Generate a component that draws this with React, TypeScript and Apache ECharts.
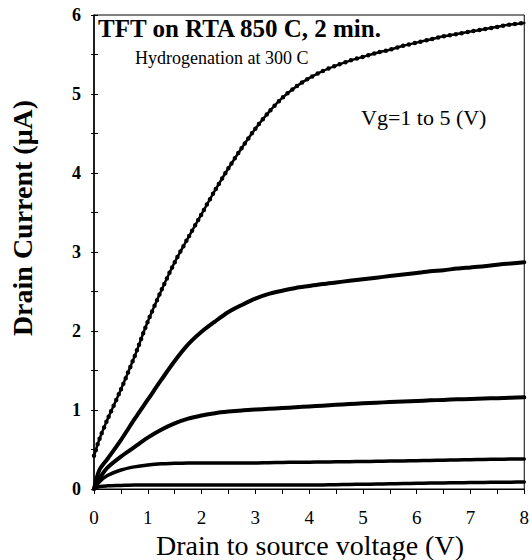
import React, { useEffect, useRef } from "react";
import * as echarts from "echarts";

// Drain-source voltage (V) sample points
const vdsValues = [
  0, 0.1, 0.25, 0.5, 0.75, 1, 1.25, 1.5, 1.75, 2, 2.25, 2.5, 2.75, 3, 3.25, 3.5, 3.75, 4,
  4.25, 4.5, 4.75, 5, 5.25, 5.5, 5.75, 6, 6.25, 6.5, 6.75, 7, 7.25, 7.5, 7.75, 8,
];

// Drain current (uA) for each gate voltage
const idVg5 = [
  0.42, 0.63, 0.88, 1.26, 1.67, 2.12, 2.51, 2.87, 3.18, 3.48, 3.78, 4.06, 4.32, 4.56, 4.77, 4.95, 5.09, 5.2,
  5.29, 5.36, 5.42, 5.47, 5.52, 5.56, 5.61, 5.65, 5.69, 5.73, 5.76, 5.79, 5.82, 5.85, 5.88, 5.9,
];
const idVg4 = [
  0, 0.24, 0.38, 0.62, 0.88, 1.13, 1.38, 1.62, 1.83, 1.99, 2.12, 2.24, 2.33, 2.41, 2.47, 2.51, 2.545, 2.57,
  2.595, 2.615, 2.635, 2.655, 2.675, 2.695, 2.715, 2.735, 2.755, 2.77, 2.79, 2.805, 2.82, 2.84, 2.855, 2.87,
];
const idVg3 = [
  0, 0.13, 0.27, 0.41, 0.53, 0.65, 0.75, 0.83, 0.89, 0.93, 0.96, 0.98, 0.995, 1.005, 1.015, 1.025, 1.035, 1.045,
  1.055, 1.065, 1.075, 1.085, 1.093, 1.1, 1.108, 1.115, 1.122, 1.128, 1.135, 1.14, 1.145, 1.15, 1.155, 1.16,
];
const idVg2 = [
  0, 0.09, 0.17, 0.24, 0.28, 0.305, 0.32, 0.325, 0.33, 0.33, 0.33, 0.33, 0.33, 0.33, 0.333, 0.336, 0.338, 0.34,
  0.342, 0.344, 0.346, 0.348, 0.35, 0.353, 0.356, 0.359, 0.362, 0.365, 0.368, 0.371, 0.374, 0.377, 0.379, 0.38,
];
const idVg1 = [
  0, 0.03, 0.04, 0.045, 0.05, 0.05, 0.05, 0.05, 0.05, 0.05, 0.05, 0.05, 0.05, 0.05, 0.05, 0.05, 0.05, 0.05,
  0.052, 0.055, 0.058, 0.06, 0.063, 0.066, 0.069, 0.072, 0.075, 0.077, 0.079, 0.081, 0.083, 0.085, 0.087, 0.09,
];

const titleText = "TFT on RTA 850 C, 2 min.";
const subtitleText = "Hydrogenation at 300 C";
const annotationText = "Vg=1 to 5 (V)";
const xAxisName = "Drain to source voltage (V)";
const yAxisName = "Drain Current (\u03bcA)";

const FONT = "Liberation Serif";

const pairs = (ys: number[]) => vdsValues.map((v, i) => [v, ys[i]]);

export default function App() {
  const ref = useRef<HTMLDivElement>(null);

  useEffect(() => {
    if (!ref.current) return;
    const chart = echarts.init(ref.current, null, { renderer: "svg" });

    const solid = (name: string, ys: number[], width: number) => ({
      name,
      type: "line",
      data: pairs(ys),
      smooth: 0.3,
      showSymbol: false,
      symbol: "none",
      lineStyle: { color: "#000", width, cap: "round", join: "round" },
      z: 3,
    });

    const txt = (
      text: string,
      x: number,
      y: number,
      size: number,
      weight: string,
      align: string,
      rotation = 0
    ) => ({
      type: "text",
      x,
      y,
      rotation,
      style: {
        text,
        fontFamily: FONT,
        fontSize: size,
        fontWeight: weight,
        fill: "#000",
        align,
        verticalAlign: "middle",
      },
    });

    chart.setOption({
      animation: false,
      backgroundColor: "#fff",
      grid: {
        left: 94,
        right: 3,
        top: 15,
        bottom: 71,
        show: true,
        borderColor: "#000",
        borderWidth: 1,
        backgroundColor: "transparent",
      },
      xAxis: {
        type: "value",
        min: 0,
        max: 8,
        interval: 1,
        axisLine: { show: true, lineStyle: { color: "#000", width: 1 } },
        axisTick: { show: true, length: 5, lineStyle: { color: "#000" } },
        minorTick: { show: true, splitNumber: 2, length: 5, lineStyle: { color: "#000" } },
        splitLine: { show: false },
        axisLabel: { color: "#000", fontFamily: FONT, fontSize: 19, margin: 19 },
      },
      yAxis: [
        {
          type: "value",
          min: 0,
          max: 6,
          interval: 1,
          axisLine: { show: true, lineStyle: { color: "#000", width: 1.5 } },
          axisTick: { show: true, length: 3, lineStyle: { color: "#000" } },
          minorTick: { show: true, splitNumber: 2, length: 3, lineStyle: { color: "#000" } },
          splitLine: { show: false },
          axisLabel: { color: "#000", fontFamily: FONT, fontSize: 18, fontWeight: "bold", margin: 13 },
        },
        {
          type: "value",
          position: "left",
          min: 0,
          max: 6,
          interval: 1,
          axisLine: { show: false },
          axisTick: { show: true, inside: true, length: 4, lineStyle: { color: "#000" } },
          minorTick: { show: true, splitNumber: 2, length: 4, lineStyle: { color: "#000" } },
          splitLine: { show: false },
          axisLabel: { show: false },
        },
      ],
      series: [
        solid("Vg=1", idVg1, 3.5),
        solid("Vg=2", idVg2, 3.5),
        solid("Vg=3", idVg3, 4),
        solid("Vg=4", idVg4, 4),
        solid("Vg=5", idVg5, 2.5),
        {
          name: "Vg=5 points",
          type: "line",
          data: pairs(idVg5),
          smooth: 0.3,
          showSymbol: false,
          symbol: "none",
          lineStyle: { color: "#000", width: 4.5, type: [0, 6], cap: "round" },
          z: 4,
        },
      ],
      graphic: [
        txt(titleText, 98, 28, 25, "bold", "left"),
        txt(subtitleText, 135, 58, 18, "normal", "left"),
        txt(annotationText, 361, 117, 22, "normal", "left"),
        txt(xAxisName, 310, 545, 28, "normal", "center"),
        txt(yAxisName, 22, 218, 28, "bold", "center", Math.PI / 2),
      ],
    });

    return () => chart.dispose();
  }, []);

  return <div ref={ref} style={{ width: 532, height: 560, position: "absolute", left: 0, top: 0 }} />;
}
